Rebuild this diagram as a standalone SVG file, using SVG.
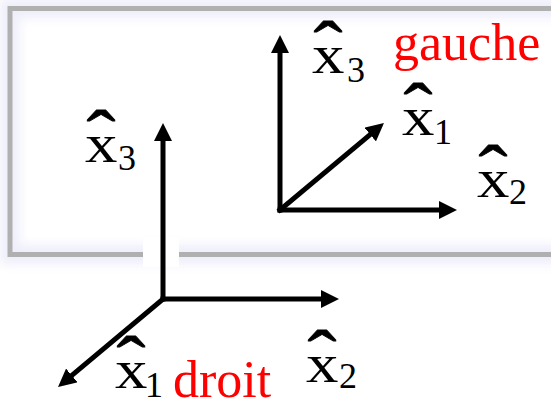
<svg xmlns="http://www.w3.org/2000/svg" width="551" height="401" viewBox="0 0 551 401">
<style>
.lbl{font-family:"Liberation Serif","Times New Roman",serif;fill:#000}
.x{font-size:54px}
.hat{font-size:60px;text-anchor:middle;stroke:#000;stroke-width:0.6}
.sub{font-size:36px}
.red{font-family:"Liberation Serif","Times New Roman",serif;font-size:52px;fill:#ff0000}
.ax{stroke:#000;stroke-width:5;fill:none;stroke-linecap:square;marker-end:url(#ah)}
</style>
<defs>
<marker id="ah" markerUnits="userSpaceOnUse" markerWidth="18" markerHeight="18" refX="8" refY="9" orient="auto">
<path d="M0,0 L18,9 L0,18 Z" fill="#000"/>
</marker>
<filter id="glow" x="-10%" y="-10%" width="120%" height="120%">
<feGaussianBlur stdDeviation="5"/>
</filter>
</defs>
<rect width="551" height="401" fill="#fff"/>
<g id="frame">
<rect x="10" y="8.5" width="570" height="246" fill="none" stroke="#efeffb" stroke-width="20" filter="url(#glow)"/>
<rect x="10" y="8.5" width="570" height="246" fill="none" stroke="#b0b0b0" stroke-width="5"/>
<rect x="143" y="237" width="36" height="30" fill="#fff"/>
</g>
<g id="connectors">
<line class="ax" x1="280" y1="210" x2="280" y2="45"/>
<line class="ax" x1="280" y1="210" x2="447" y2="210"/>
<line class="ax" x1="280" y1="210" x2="376.3" y2="129.4"/>
<line class="ax" x1="163" y1="299" x2="163" y2="133"/>
<line class="ax" x1="163" y1="299" x2="329" y2="299"/>
<line class="ax" x1="163" y1="299" x2="65.7" y2="380.6"/>
</g>
<g id="gauche"><text class="red" x="393" y="60">gauche</text></g>
<g id="droit"><text class="red" x="173" y="397">droit</text></g>
<g id="r-x3" class="lbl" transform="translate(312,73)">
<text class="x" transform="scale(1.2,1)">x</text>
<text class="hat" transform="translate(16,0) scale(1.45,1.25)">ˆ</text>
<text class="sub" x="35" y="9">3</text>
</g>
<g id="r-x1" class="lbl" transform="translate(402,135)">
<text class="x" transform="scale(1.2,1)">x</text>
<text class="hat" transform="translate(16,0) scale(1.45,1.25)">ˆ</text>
<text class="sub" x="32" y="9">1</text>
</g>
<g id="r-x2" class="lbl" transform="translate(477,197)">
<text class="x" transform="scale(1.2,1)">x</text>
<text class="hat" transform="translate(16,0) scale(1.45,1.25)">ˆ</text>
<text class="sub" x="32" y="7">2</text>
</g>
<g id="l-x3" class="lbl" transform="translate(85,162)">
<text class="x" transform="scale(1.2,1)">x</text>
<text class="hat" transform="translate(16,0) scale(1.45,1.25)">ˆ</text>
<text class="sub" x="33" y="8">3</text>
</g>
<g id="l-x1" class="lbl" transform="translate(115,388)">
<text class="x" transform="scale(1.2,1)">x</text>
<text class="hat" transform="translate(16,0) scale(1.45,1.25)">ˆ</text>
<text class="sub" x="30" y="9">1</text>
</g>
<g id="l-x2" class="lbl" transform="translate(306,382)">
<text class="x" transform="scale(1.2,1)">x</text>
<text class="hat" transform="translate(16,0) scale(1.45,1.25)">ˆ</text>
<text class="sub" x="33" y="6">2</text>
</g>
</svg>
